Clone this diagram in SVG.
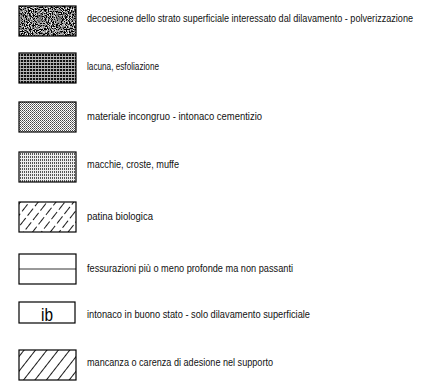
<svg xmlns="http://www.w3.org/2000/svg" width="423" height="381" viewBox="0 0 423 381">
<style>
.box{stroke:#000;stroke-width:1.2}
.lbl{font-family:"Liberation Sans","DejaVu Sans Condensed",sans-serif;font-size:10.5px;fill:#111}
</style>
<defs>
<filter id="noise" filterUnits="userSpaceOnUse" x="19" y="6" width="57" height="30">
<feTurbulence type="fractalNoise" baseFrequency="0.95" numOctaves="1" seed="4"/>
<feColorMatrix type="matrix" values="3.2 0 0 0 -1.4  3.2 0 0 0 -1.4  3.2 0 0 0 -1.4  0 0 0 0 1"/>
</filter>
<pattern id="grid" patternUnits="userSpaceOnUse" width="3" height="3">
<rect width="3" height="3" fill="#111"/>
<rect x="2" y="0" width="1" height="3" fill="#999"/>
<rect x="0" y="2" width="3" height="1" fill="#bbb"/>
</pattern>
<pattern id="check" patternUnits="userSpaceOnUse" width="2" height="2">
<rect width="2" height="2" fill="#fff"/>
<rect width="1" height="1" fill="#444"/>
<rect x="1" y="1" width="1" height="1" fill="#777"/>
</pattern>
<pattern id="vstripe" patternUnits="userSpaceOnUse" width="2" height="3">
<rect width="2" height="3" fill="#eee"/>
<rect width="1" height="2" fill="#555"/>
</pattern>
<pattern id="hatchDash" patternUnits="userSpaceOnUse" width="7" height="12" patternTransform="rotate(38)">
<rect width="7" height="12" fill="#fff"/>
<line x1="0.5" y1="0" x2="0.5" y2="9" stroke="#000" stroke-width="0.9"/>
</pattern>
<pattern id="hatch" patternUnits="userSpaceOnUse" width="9" height="10" patternTransform="rotate(38)">
<rect width="9" height="10" fill="#fff"/>
<line x1="0.5" y1="0" x2="0.5" y2="10" stroke="#000" stroke-width="0.9"/>
</pattern>
</defs>

<g id="legend-1">
<rect x="19" y="6" width="57" height="30" fill="#888" filter="url(#noise)"/>
<rect class="box" x="19" y="6" width="57" height="30" fill="none"/>
<text class="lbl" transform="translate(87,22) scale(0.78,1)" x="0" y="0" textLength="418" lengthAdjust="spacingAndGlyphs">decoesione dello strato superficiale interessato dal dilavamento - polverizzazione</text>
</g>
<g id="legend-2">
<rect class="box" x="19" y="53" width="57" height="30" fill="url(#grid)" stroke-width="1.5"/>
<text class="lbl" x="87" y="70" textLength="72" lengthAdjust="spacingAndGlyphs">lacuna, esfoliazione</text>
</g>
<g id="legend-3">
<rect class="box" x="19" y="102" width="57" height="30" fill="url(#check)"/>
<text class="lbl" x="87" y="120" textLength="175" lengthAdjust="spacingAndGlyphs">materiale incongruo - intonaco cementizio</text>
</g>
<g id="legend-4">
<rect class="box" x="19" y="152" width="57" height="30" fill="url(#vstripe)"/>
<text class="lbl" x="87" y="168" textLength="92" lengthAdjust="spacingAndGlyphs">macchie, croste, muffe</text>
</g>
<g id="legend-5">
<rect class="box" x="19" y="202" width="57" height="30" fill="url(#hatchDash)"/>
<text class="lbl" x="87" y="220" textLength="66" lengthAdjust="spacingAndGlyphs">patina biologica</text>
</g>
<g id="legend-6">
<rect class="box" x="19" y="254" width="57" height="30" fill="#fff"/>
<line x1="19" y1="269" x2="76" y2="269" stroke="#000" stroke-width="0.8"/>
<text class="lbl" x="87" y="272" textLength="206" lengthAdjust="spacingAndGlyphs">fessurazioni più o meno profonde ma non passanti</text>
</g>
<g id="legend-7">
<rect class="box" x="19" y="302" width="56" height="21" fill="#fff"/>
<text x="47" y="321" text-anchor="middle" font-family="Liberation Sans, sans-serif" font-size="19" textLength="12" lengthAdjust="spacingAndGlyphs">ib</text>
<text class="lbl" x="87" y="318" textLength="223" lengthAdjust="spacingAndGlyphs">intonaco in buono stato - solo dilavamento superficiale</text>
</g>
<g id="legend-8">
<rect class="box" x="19" y="350" width="57" height="30" fill="url(#hatch)"/>
<text class="lbl" x="87" y="366" textLength="186" lengthAdjust="spacingAndGlyphs">mancanza o carenza di adesione nel supporto</text>
</g>
<g id="connectors"/>
</svg>
